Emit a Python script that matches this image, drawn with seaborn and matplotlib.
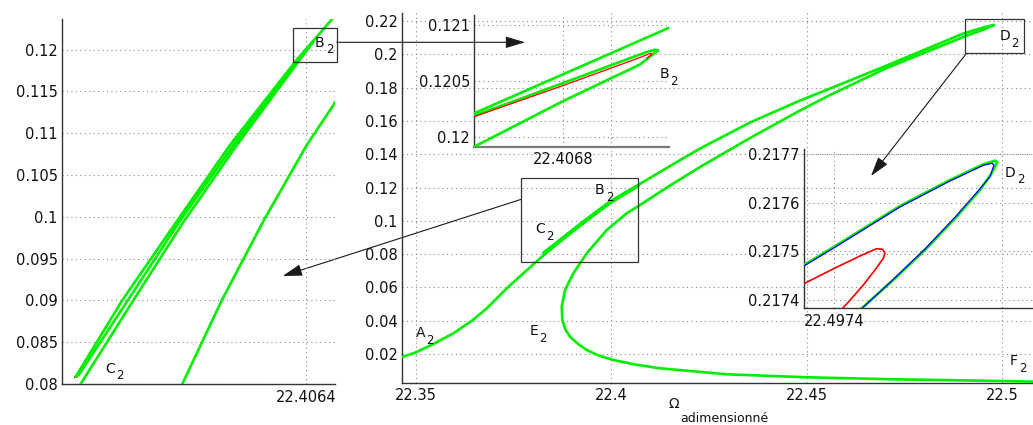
import numpy as np
import pandas as pd
import matplotlib
matplotlib.use("Agg")
import matplotlib.pyplot as plt
import seaborn as sns
from matplotlib.patches import Rectangle
from matplotlib.ticker import FormatStrFormatter

# ---------------- data ----------------
# main response curve A2 -> B2 -> C2 -> D2 -> E2 -> F2
omega_main = [22.34471, 22.34598, 22.34982, 22.35450, 22.35962, 22.36432, 22.36816, 22.37327,
              22.37752, 22.38179, 22.38691, 22.39286, 22.39969, 22.40481, 22.40693,
              22.40609, 22.39969, 22.39286, 22.38691, 22.38307, 22.38263,
              22.38333, 22.38691, 22.39286, 22.39969, 22.40685, 22.41504, 22.42271, 22.43550,
              22.44829, 22.45596, 22.47046, 22.49005, 22.49560, 22.49794,
              22.49560, 22.49005, 22.47046, 22.45596, 22.44829, 22.43550, 22.42271, 22.41504,
              22.40737, 22.40396, 22.39885, 22.39373, 22.39031, 22.38818, 22.38734, 22.38749,
              22.38826, 22.38946, 22.39151, 22.39373, 22.39662, 22.40054, 22.40609, 22.41248,
              22.42954, 22.45000, 22.47215, 22.50028, 22.51095]
amp_main = [0.01580, 0.01778, 0.02078, 0.02601, 0.03243, 0.03994, 0.04745, 0.05946,
            0.06847, 0.07748, 0.08745, 0.09850, 0.11051, 0.11790, 0.12078,
            0.12018, 0.11105, 0.09904, 0.08811, 0.08138, 0.08060,
            0.08198, 0.08871, 0.09970, 0.11171, 0.12150, 0.13291, 0.14342, 0.15904,
            0.17225, 0.17946, 0.19327, 0.21249, 0.21640, 0.21768,
            0.21520, 0.21039, 0.19177, 0.17556, 0.16625, 0.14973, 0.13231, 0.12120,
            0.10949, 0.10451, 0.09447, 0.08048, 0.06847, 0.05844, 0.04841, 0.04042,
            0.03483, 0.03039, 0.02601, 0.02240, 0.01922, 0.01640, 0.01369, 0.01141,
            0.00781, 0.00601, 0.00480, 0.00378, 0.00318]

# zoom around C2 (left inset)
omega_c2 = [22.39483, 22.39496, 22.39764, 22.40015, 22.40288, 22.40598, 22.40674,
            22.40588, 22.40271, 22.39994, 22.39736, 22.39488, 22.39471,
            22.39708, 22.39979, 22.40253, 22.40582, 22.40771, 22.40835]
amp_c2 = [0.079521, 0.08, 0.090051, 0.099324, 0.108597, 0.118528, 0.120921,
          0.118528, 0.108597, 0.099324, 0.090051, 0.081137, 0.080873,
          0.090051, 0.099324, 0.108597, 0.118528, 0.123673, 0.12571]
omega_c2_back = [22.40000, 22.40011, 22.40212, 22.40425, 22.40642, 22.40785, 22.40811]
amp_c2_back = [0.079521, 0.08, 0.090051, 0.099623, 0.108597, 0.113658, 0.11470]
omega_c2_red = [22.39490, 22.39465, 22.39480]
amp_c2_red = [0.08114, 0.08078, 0.08090]

# zoom around B2 (top inset)
omega_b2_up = [22.4066952, 22.4067, 22.40691876, 22.40693112]
amp_b2_up = [0.1201925, 0.1202095, 0.1209758, 0.1210188]
omega_b2_fold = [22.4066952, 22.4067, 22.4068, 22.40688618, 22.40689742, 22.40690416, 22.40690674,
                 22.40690303, 22.40689517, 22.4068, 22.4067, 22.4066952]
amp_b2_fold = [0.1198917, 0.1199105, 0.1203196, 0.1206464, 0.1207180, 0.1207583, 0.1207735,
               0.1207780, 0.1207628, 0.1204808, 0.1201880, 0.1201737]
omega_b2_red = [22.4066952, 22.4067, 22.4068, 22.40688618, 22.40689629, 22.40689933, 22.40689854, 22.40689404]
amp_b2_red = [0.1201647, 0.1201790, 0.1204584, 0.1207090, 0.1207422, 0.1207466, 0.1207314, 0.1207046]

# zoom around D2 (right inset)
omega_d2_green = [22.4972868, 22.4973000, 22.4974001, 22.4976168, 22.4977818, 22.4978918, 22.4979304,
                  22.4979381, 22.4979194, 22.4978809, 22.4978039, 22.4977048, 22.4975948, 22.4974903, 22.4974738]
amp_d2_green = [0.2174673, 0.2174721, 0.2175098, 0.2175935, 0.2176471, 0.2176793, 0.2176869,
                0.2176835, 0.2176608, 0.2176265, 0.2175716, 0.2175064, 0.2174412, 0.2173828, 0.2173726]
omega_d2_blue = [22.4972868, 22.4973000, 22.4974001, 22.4976168, 22.4977818, 22.4978918, 22.4979205,
                 22.4979271, 22.4979139, 22.4978754, 22.4977983, 22.4977004, 22.4975915, 22.4974892, 22.4974738]
amp_d2_blue = [0.2174652, 0.2174700, 0.2175078, 0.2175915, 0.2176450, 0.2176773, 0.2176814,
               0.2176780, 0.2176539, 0.2176251, 0.2175702, 0.2175057, 0.2174405, 0.2173815, 0.2173712]
omega_d2_red = [22.4972868, 22.4973000, 22.4974001, 22.4974848, 22.4975398, 22.4975596, 22.4975673,
                22.4975618, 22.4975343, 22.4974958, 22.4974573, 22.4974276, 22.4974188]
amp_d2_red = [0.2174309, 0.2174336, 0.2174652, 0.2174906, 0.2175057, 0.2175043, 0.2174961,
              0.2174858, 0.2174618, 0.2174309, 0.2174034, 0.2173828, 0.2173760]

main_xticks = [22.35, 22.4, 22.45, 22.5]
main_yticks = [0.02, 0.04, 0.06, 0.08, 0.1, 0.12, 0.14, 0.16, 0.18, 0.2, 0.22]
c2_xticks = [22.4064]
c2_yticks = [0.08, 0.085, 0.09, 0.095, 0.1, 0.105, 0.11, 0.115, 0.12]
b2_xticks = [22.4068]
b2_yticks = [0.12, 0.1205, 0.121]
d2_xticks = [22.4974]
d2_yticks = [0.2174, 0.2175, 0.2176, 0.2177]

x_label_symbol = "Ω"
x_label_sub = "adimensionné"

# ---------------- style ----------------
sns.set_theme(style="white")
plt.rcParams["font.family"] = ["DejaVu Sans"]

GREEN = "#00EE00"
BLUE = "#0000FF"
RED = "#FF0000"
SPINE = "#333333"
GRID = "#8a8a8a"
TXT = "#111111"
FS = 10.5

W, H = 1033, 425
fig = plt.figure(figsize=(W / 100, H / 100), dpi=100)


def px_rect(l, t, r, b):
    return [l / W, 1 - b / H, (r - l) / W, (b - t) / H]


def style(ax, xticks, yticks, xlim, ylim):
    ax.set_facecolor("none")
    for s in ["top", "right"]:
        ax.spines[s].set_visible(False)
    for s in ["left", "bottom"]:
        ax.spines[s].set_color(SPINE)
        ax.spines[s].set_linewidth(1.0)
    ax.set_xlim(*xlim)
    ax.set_ylim(*ylim)
    ax.set_xticks(xticks)
    ax.set_yticks(yticks)
    ax.xaxis.set_major_formatter(FormatStrFormatter("%g"))
    ax.yaxis.set_major_formatter(FormatStrFormatter("%g"))
    ax.tick_params(axis="both", direction="in", length=4, width=0.8, color=SPINE,
                   labelsize=FS, labelcolor=TXT)
    ax.tick_params(axis="x", pad=4)
    ax.tick_params(axis="y", pad=3)
    ax.grid(True, linestyle=(0, (1, 3)), color=GRID, linewidth=0.8)
    ax.set_xlabel("")
    ax.set_ylabel("")


def curve(ax, x, y, color, lw, z=3):
    df = pd.DataFrame({"x": x, "y": y})
    sns.lineplot(data=df, x="x", y="y", sort=False, estimator=None, ax=ax,
                 color=color, linewidth=lw, legend=False, zorder=z)


LETTER_W = {"A": 0.684, "B": 0.686, "C": 0.698, "D": 0.770, "E": 0.632, "F": 0.575}


def label(ax, x, y, s):
    ax.annotate(s, xy=(x, y), xycoords="data", fontsize=10, ha="left", va="baseline",
                color=TXT, annotation_clip=False)
    ax.annotate("2", xy=(x, y), xycoords="data", xytext=(LETTER_W[s] * 10 + 0.8, -4.8),
                textcoords="offset points", fontsize=8.5, ha="left", va="baseline",
                color=TXT, annotation_clip=False)


# ---------------- main axes ----------------
ax = fig.add_axes(px_rect(401.7, 12.7, 1041, 382.7))
curve(ax, omega_main, amp_main, GREEN, 1.9)
style(ax, main_xticks, main_yticks, (22.3464, 22.50993), (0.00276, 0.225))
ax.annotate(x_label_symbol, xy=(0.5, 0), xycoords="axes fraction", xytext=(-38.4, -18.2),
            textcoords="offset points", fontsize=10, ha="left", va="baseline", color=TXT)
ax.annotate(x_label_sub, xy=(0.5, 0), xycoords="axes fraction", xytext=(-29.8, -28.0),
            textcoords="offset points", fontsize=9, ha="left", va="baseline", color=TXT)
label(ax, 22.34992, 0.03021, "A")
label(ax, 22.39586, 0.11610, "B")
label(ax, 22.38051, 0.09249, "C")
label(ax, 22.49926, 0.20859, "D")
label(ax, 22.37905, 0.03141, "E")
label(ax, 22.50200, 0.01339, "F")
ax.add_patch(Rectangle((22.37686, 0.07508), 22.40678 - 22.37686, 0.12553 - 0.07508,
                       fill=False, edgecolor=SPINE, linewidth=0.9, zorder=5))
ax.add_patch(Rectangle((22.49048, 0.2006), 22.50565 - 22.49048, 0.2212 - 0.2006,
                       fill=False, edgecolor=SPINE, linewidth=0.9, zorder=5, clip_on=False))

# ---------------- C2 inset (left) ----------------
axc = fig.add_axes(px_rect(61.7, 19, 335, 384), zorder=2)
curve(axc, omega_c2_red, amp_c2_red, RED, 1.2, z=2)
curve(axc, omega_c2, amp_c2, GREEN, 1.9)
curve(axc, omega_c2_back, amp_c2_back, GREEN, 1.9)
style(axc, c2_xticks, c2_yticks, (22.3940, 22.40785), (0.08, 0.123673))
label(axc, 22.40684, 0.120359, "B")
label(axc, 22.39619, 0.081352, "C")
axc.add_patch(Rectangle((22.40571, 0.11849), 22.40794 - 22.40571, 0.12263 - 0.11849,
                        fill=False, edgecolor=SPINE, linewidth=0.9, zorder=5, clip_on=False))

# ---------------- B2 inset (top) ----------------
axb = fig.add_axes(px_rect(474.3, 15, 669, 146.7), zorder=3)
curve(axb, omega_b2_up, amp_b2_up, GREEN, 1.9)
curve(axb, omega_b2_fold, amp_b2_fold, GREEN, 1.9)
curve(axb, omega_b2_red, amp_b2_red, RED, 0.9, z=4)
style(axb, b2_xticks, b2_yticks, (22.4067, 22.40691876), (0.119910, 0.121090))
axb.spines["bottom"].set_color("#7a7a7a")
axb.spines["bottom"].set_linewidth(1.6)
label(axb, 22.40690787, 0.120523, "B")

# ---------------- D2 inset (right) ----------------
axd = fig.add_axes(px_rect(804, 149, 1040, 308.3), zorder=3)
curve(axd, omega_d2_green, amp_d2_green, GREEN, 1.9)
curve(axd, omega_d2_blue, amp_d2_blue, BLUE, 0.9, z=4)
curve(axd, omega_d2_red, amp_d2_red, RED, 1.2, z=4)
style(axd, d2_xticks, d2_yticks, (22.4973, 22.498079), (0.2173829, 0.2177109))
label(axd, 22.4979634, 0.2176539, "D")

# ---------------- arrows between panels ----------------
arrow_kw = dict(arrowstyle="-|>,head_length=1.0,head_width=0.3", color="k", lw=0.8,
                shrinkA=0, shrinkB=0, mutation_scale=12)
for (x0, y0), (x1, y1) in [((336.7, 42.3), (525, 42.3)),
                           ((520.7, 199.5), (282.7, 276)),
                           ((965.7, 54.3), (871, 176))]:
    ax.annotate("", xy=(x1, H - y1), xytext=(x0, H - y0), xycoords="figure pixels",
                textcoords="figure pixels", arrowprops=arrow_kw, zorder=10)

fig.savefig("out.png", dpi=100)
